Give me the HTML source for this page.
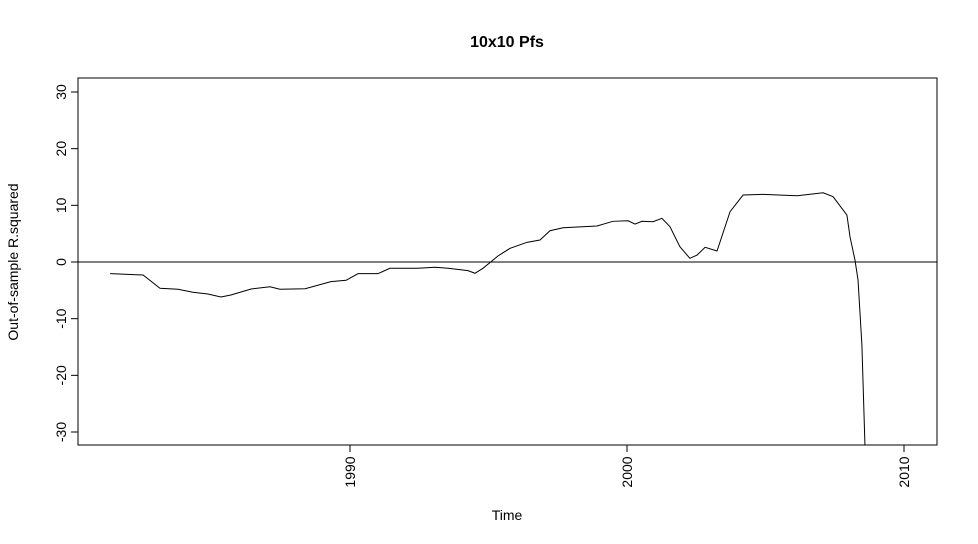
<!DOCTYPE html>
<html><head><meta charset="utf-8"><style>
body{margin:0;background:#fff;}
svg{display:block;font-family:"Liberation Sans",Arial,sans-serif;}
</style></head><body>
<svg id="chart" width="978" height="544">
<text x="507" y="47" text-anchor="middle" font-weight="bold" font-size="16">10x10 Pfs</text>
<text x="507" y="520" text-anchor="middle" font-size="14">Time</text>
<text transform="translate(18,262) rotate(-90)" text-anchor="middle" font-size="14">Out-of-sample R.squared</text>
<defs><clipPath id="pc"><rect x="78" y="78" width="859" height="367"/></clipPath></defs>
<g id="axes"></g>
<g id="series" clip-path="url(#pc)"></g>
<rect x="78" y="78" width="859" height="367" fill="none" stroke="#000"/>
</svg>
<script>
const years=[1981.34,1982.53,1983.14,1983.79,1984.33,1984.87,1985.34,1985.70,1986.43,1987.11,1987.47,1988.38,1989.31,1989.86,1990.29,1991.01,1991.44,1992.45,1993.07,1993.54,1994.26,1994.51,1994.80,1995.09,1995.34,1995.78,1996.39,1996.86,1997.22,1997.69,1998.92,1999.49,2000.04,2000.29,2000.54,2000.94,2001.26,2001.55,2001.91,2002.27,2002.53,2002.82,2003.25,2003.72,2004.19,2004.91,2006.14,2007.08,2007.44,2007.94,2008.05,2008.23,2008.34,2008.48,2008.59,2008.65];
const values=[-2.06,-2.29,-4.64,-4.81,-5.34,-5.64,-6.17,-5.82,-4.76,-4.36,-4.81,-4.71,-3.47,-3.23,-2.06,-2.06,-1.11,-1.11,-0.93,-1.11,-1.53,-1.99,-1.11,0.05,1.06,2.42,3.47,3.88,5.52,6.05,6.35,7.18,7.28,6.70,7.18,7.11,7.71,6.23,2.70,0.65,1.23,2.59,1.94,8.87,11.82,11.94,11.69,12.22,11.52,8.29,4.46,0.35,-3.17,-14.6,-32.3,-40];
const yTicks=[-30,-20,-10,0,10,20,30];
const xTicks=[1990,2000,2010];
const NS="http://www.w3.org/2000/svg";
const xS=v=>350+(v-1990)*27.7;
const yS=v=>262-v*5.667;
const ax=document.getElementById('axes');
function mk(t,a,p){const e=document.createElementNS(NS,t);for(const k in a)e.setAttribute(k,a[k]);p.appendChild(e);return e;}
yTicks.forEach(v=>{
 const l=mk('line',{x1:71,x2:78,y1:yS(v),y2:yS(v),stroke:'#000'},ax);
 
 
 const t=mk('text',{transform:`translate(80,${yS(v)}) rotate(-90) translate(0,-14)`,'text-anchor':'middle','font-size':'14'},ax);
 t.textContent=v;
 
 
});
xTicks.forEach(v=>{
 const l=mk('line',{x1:xS(v),x2:xS(v),y1:445,y2:452,stroke:'#000'},ax);
 
 
 const t=mk('text',{transform:`translate(${xS(v)+5},472) rotate(-90)`,'text-anchor':'middle','font-size':'14'},ax);
 t.textContent=v;
 
 
});
const sg=document.getElementById('series');
const z=mk('line',{x1:78,x2:937,y1:yS(0),y2:yS(0),stroke:'#000'},sg);


const p=mk('polyline',{points:years.map((y,i)=>xS(y)+','+yS(values[i])).join(' '),fill:'none',stroke:'#000','stroke-width':1},sg);


</script>
</body></html>
